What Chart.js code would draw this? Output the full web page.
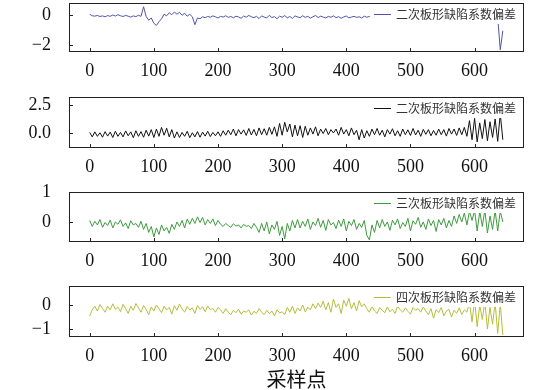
<!DOCTYPE html>
<html>
<head>
<meta charset="utf-8">
<script src="https://cdn.jsdelivr.net/npm/chart.js@4.4.0/dist/chart.umd.min.js"></script>
<style>
  html, body { margin: 0; padding: 0; background: #fff; }
  body { width: 560px; height: 390px; position: relative; overflow: hidden; }
  .panel { position: absolute; left: 0; width: 560px; }
  #xlabel { position: absolute; left: 69px; width: 455px; top: 364px; height: 24px; line-height: 24px;
            text-align: center; font: 20px "Noto Sans CJK SC", sans-serif; color: #111; }
</style>
</head>
<body>
<div class="panel" id="p0"><canvas id="c0"></canvas></div>
<div class="panel" id="p1"><canvas id="c1"></canvas></div>
<div class="panel" id="p2"><canvas id="c2"></canvas></div>
<div class="panel" id="p3"><canvas id="c3"></canvas></div>
<div id="xlabel">采样点</div>
<script>
// ---- data ----
const STEP = 4; // sample spacing between stored values
const X_TICKS = [0, 100, 200, 300, 400, 500, 600];
const X_LABEL = '采样点';

const LABEL_1 = '二次板形缺陷系数偏差';
const LABEL_2 = '二次板形缺陷系数偏差';
const LABEL_3 = '三次板形缺陷系数偏差';
const LABEL_4 = '四次板形缺陷系数偏差';

const SERIES_1 = [
 0.05,-0.05,-0.08,-0.03,-0.10,-0.06,-0.12,-0.04,-0.09,0.00,-0.07,0.02,-0.05,-0.10,-0.03,-0.08,-0.14,-0.06,-0.11,-0.02,-0.09,
 0.55,-0.10,-0.35,-0.20,-0.55,-0.70,-0.45,-0.25,0.05,-0.05,0.15,0.02,0.20,0.05,0.18,-0.02,0.12,-0.08,0.05,-0.12,-0.65,-0.20,-0.25,-0.12,
 -0.18,-0.10,-0.15,-0.06,-0.12,-0.20,-0.09,-0.14,-0.05,-0.16,
 -0.10,-0.19,-0.08,-0.13,-0.22,-0.07,-0.15,-0.03,-0.12,-0.18,
 -0.09,-0.24,-0.06,-0.14,-0.20,-0.02,-0.17,-0.11,-0.25,-0.08,
 -0.15,-0.04,-0.19,-0.10,-0.23,-0.06,-0.13,-0.18,-0.05,-0.16,
 -0.09,-0.21,-0.12,-0.03,-0.17,-0.08,-0.14,-0.20,-0.10,-0.15,
 -0.06,-0.18,-0.11,-0.22,-0.13,-0.07,-0.19,-0.14,-0.09,-0.16,
 -0.12,-0.20,-0.08,-0.15,-0.10,-0.18,
 -0.07,-0.14,-0.11,-0.17,-0.09,-0.13,-0.20,-0.06,-0.15,-0.10,
 -0.18,-0.12,-0.08,-0.16,-0.11,-0.21,-0.07,-0.14,-0.10,-0.17,
 -0.12,-0.06,-0.19,-0.13,-0.09,-0.15,-0.22,-0.10,-0.14,-0.08,
 -0.17,-0.11,-0.16,-0.05,-0.13,-0.19,-0.10,-0.15,
 -0.12,-0.08,-0.18,-0.14,-0.10,-0.20,-0.13,-0.07,-0.16,-0.11,
 -0.15,-2.32,-1.05
];

const SERIES_2 = [
 0.05,-0.35,0.10,-0.30,0.02,-0.38,0.12,-0.28,0.08,-0.40,
 0.15,-0.30,0.05,-0.35,0.18,-0.25,0.10,-0.42,0.20,-0.30,
 0.12,-0.38,0.25,-0.28,0.30,
 -0.40,0.35,-0.30,0.50,-0.20,0.42,-0.35,0.30,-0.45,
 0.10,-0.40,0.05,-0.30,0.15,-0.42,0.02,-0.35,0.12,-0.38,0.08,-0.28,0.15,-0.32,0.05,-0.25,0.10,
 -0.30,0.20,-0.20,0.25,-0.15,0.35,-0.25,0.30,-0.10,0.28,-0.22,0.40,-0.18,0.32,-0.25,0.45,-0.15,0.38,-0.20,0.50,-0.12,0.55,
 -0.30,0.85,-0.20,0.95,0.10,0.80,-0.35,0.70,-0.25,0.65,-0.40,
 0.60,-0.20,0.45,-0.10,0.55,-0.25,0.35,-0.05,0.40,-0.15,0.30,0.00,0.35,-0.20,0.50,-0.10,0.30,-0.25,0.45,-0.15,0.25,
 -0.60,0.30,-0.45,0.20,
 -0.30,0.35,-0.15,0.40,-0.20,0.25,-0.35,0.30,-0.10,0.38,
 -0.25,0.20,-0.30,0.35,-0.15,0.28,-0.22,0.40,-0.18,0.25,
 -0.30,0.32,-0.12,0.30,-0.25,0.22,-0.20,0.35,-0.15,0.30,
 -0.28,0.40,-0.10,0.35,-0.22,0.45,-0.15,0.50,-0.30,
 1.10,-0.60,1.30,-0.80,0.90,-0.50,1.20,-0.70,1.00,-0.40,1.25,-0.75,1.70,-0.60
];

const SERIES_3 = [
 0.05,-0.15,0.02,-0.10,0.08,-0.18,-0.02,-0.12,0.06,-0.20,0.00,-0.08,0.07,-0.15,-0.03,-0.22,0.04,-0.10,-0.05,-0.18,0.02,
 -0.25,-0.05,-0.35,-0.15,-0.50,-0.20,-0.42,-0.10,-0.30,-0.18,-0.38,-0.08,
 -0.25,0.00,-0.15,0.05,-0.20,0.10,-0.08,0.12,-0.05,0.17,-0.02,0.15,-0.10,0.08,-0.05,0.10,-0.12,0.05,
 -0.08,-0.15,-0.05,-0.12,-0.18,-0.06,-0.14,-0.10,-0.20,-0.08,-0.15,-0.12,-0.22,-0.05,-0.18,
 -0.35,-0.05,-0.30,0.00,-0.40,-0.10,-0.25,0.02,-0.45,-0.15,-0.57,-0.05,-0.30,0.05,-0.20,
 0.08,-0.20,0.02,-0.15,0.10,-0.25,0.00,-0.12,0.12,-0.18,0.05,-0.28,0.08,-0.10,-0.02,-0.22,0.06,-0.15,0.10,-0.30,0.02,-0.12,0.08,-0.25,-0.05,-0.18,0.05,
 -0.45,-0.60,-0.10,-0.35,
 0.05,-0.20,0.08,-0.15,0.00,-0.28,0.06,-0.10,0.10,-0.22,-0.02,-0.15,0.12,-0.30,0.04,-0.08,0.15,-0.18,0.00,-0.25,0.10,-0.12,0.05,-0.32,0.08,-0.10,0.12,-0.20,
 0.05,-0.15,0.20,-0.05,0.25,0.00,0.30,-0.10,0.35,0.05,
 0.38,-0.30,0.35,-0.15,0.40,-0.37,0.20,-0.25,0.38,-0.30,0.35,0.00
];

const SERIES_4 = [
 -0.46,-0.20,-0.05,-0.25,0.02,-0.15,-0.30,-0.05,-0.20,0.05,
 -0.18,-0.08,-0.28,0.03,-0.15,-0.35,-0.05,-0.22,0.06,-0.12,
 -0.30,-0.02,-0.18,-0.40,-0.08,-0.25,0.00,-0.15,-0.32,-0.05,
 -0.20,-0.10,-0.38,-0.03,-0.22,0.04,-0.16,-0.30,-0.06,-0.20,
 -0.12,-0.35,-0.02,-0.18,-0.08,-0.28,-0.04,-0.20,-0.14,-0.30,-0.10,
 -0.20,-0.35,-0.15,-0.30,-0.40,-0.22,-0.32,-0.18,-0.38,-0.25,
 -0.30,-0.20,-0.42,-0.26,-0.35,-0.15,-0.30,-0.40,-0.22,-0.36,
 -0.25,-0.45,-0.20,-0.33,-0.28,
 -0.40,-0.10,-0.30,-0.05,-0.35,-0.12,-0.25,0.00,-0.28,-0.08,-0.20,0.05,-0.15,0.08,-0.10,
 0.15,-0.20,0.10,-0.30,0.25,-0.10,0.05,-0.35,0.20,-0.05,0.28,-0.15,0.10,-0.25,0.18,-0.08,0.05,
 -0.15,-0.30,-0.05,-0.25,-0.35,-0.10,-0.22,-0.32,-0.08,-0.28,-0.18,-0.35,-0.05,-0.20,-0.30,-0.12,-0.26,-0.38,-0.10,-0.22,-0.15,-0.30,-0.08,
 -0.25,-0.40,-0.15,-0.55,-0.20,-0.32,-0.10,-0.45,-0.25,-0.18,-0.50,-0.22,-0.35,-0.12,-0.40,-0.20,-0.30,
 0.10,-0.70,0.20,-0.90,0.00,-0.60,0.15,-1.00,-0.10,-0.80,0.10,-1.18,0.05,-1.25
];

const Y_TICKS_1 = [-2, 0];      const Y_TICK_LABELS_1 = ['\u22122', '0'];
const Y_TICKS_2 = [0, 2.5];     const Y_TICK_LABELS_2 = ['0.0', '2.5'];
const Y_TICKS_3 = [0, 1];       const Y_TICK_LABELS_3 = ['0', '1'];
const Y_TICKS_4 = [-1, 0];      const Y_TICK_LABELS_4 = ['\u22121', '0'];

// ---- layout / style ----
const PANELS = [
  { values: SERIES_1, label: LABEL_1, color: '#5055aa', yMin: -2.47, yMax: 0.80, yTicks: Y_TICKS_1, yLabels: Y_TICK_LABELS_1, top: 3,   bottom: 52 },
  { values: SERIES_2, label: LABEL_2, color: '#111111', yMin: -1.34, yMax: 3.21, yTicks: Y_TICKS_2, yLabels: Y_TICK_LABELS_2, top: 97,  bottom: 148 },
  { values: SERIES_3, label: LABEL_3, color: '#3f9a3f', yMin: -0.67, yMax: 1.00, yTicks: Y_TICKS_3, yLabels: Y_TICK_LABELS_3, top: 192, bottom: 242 },
  { values: SERIES_4, label: LABEL_4, color: '#b5be3a', yMin: -1.33, yMax: 0.79, yTicks: Y_TICKS_4, yLabels: Y_TICK_LABELS_4, top: 286, bottom: 337 }
];
const PLOT_LEFT = 69, PLOT_RIGHT = 524, XAXIS_H = 28, TOP_PAD = 14, W = 560;
const X_MIN = -32.25, X_MAX = 677;
const TICK_FONT = { family: '"Liberation Serif", "Times New Roman", serif', size: 18 };

const framePlugin = {
  id: 'frameLegend',
  afterDatasetsDraw(chart, args, opts) {
    const { ctx, chartArea: a, scales } = chart;
    const xs = scales.x, ys = scales.y;
    ctx.save();
    // legend (opaque, no border)
    ctx.font = '12px "Noto Sans CJK SC", sans-serif';
    const tw = ctx.measureText(opts.label).width;
    const textRight = a.right - 8;
    const textLeft = textRight - tw;
    const lineEnd = textLeft - 5, lineStart = lineEnd - 17;
    const cy = a.top + 10.5;
    ctx.fillStyle = '#fff';
    ctx.fillRect(lineStart - 4, a.top + 1, a.right - 1 - (lineStart - 4), 20);
    ctx.strokeStyle = opts.color; ctx.lineWidth = 1;
    ctx.beginPath(); ctx.moveTo(lineStart, Math.round(cy) + 0.5); ctx.lineTo(lineEnd, Math.round(cy) + 0.5); ctx.stroke();
    ctx.fillStyle = '#333'; ctx.textBaseline = 'middle'; ctx.textAlign = 'left';
    ctx.fillText(opts.label, textLeft, cy + 0.5);
    // inward ticks
    ctx.strokeStyle = '#222'; ctx.lineWidth = 1;
    ctx.beginPath();
    X_TICKS.forEach(v => {
      const px = Math.round(xs.getPixelForValue(v)) + 0.5;
      ctx.moveTo(px, a.bottom); ctx.lineTo(px, a.bottom - 4);
    });
    opts.yTicks.forEach(v => {
      const py = Math.round(ys.getPixelForValue(v)) + 0.5;
      ctx.moveTo(a.left, py); ctx.lineTo(a.left + 4, py);
    });
    ctx.stroke();
    // frame
    ctx.strokeStyle = '#222';
    ctx.strokeRect(a.left + 0.5, a.top + 0.5, a.right - a.left - 1, a.bottom - a.top - 1);
    ctx.restore();
  }
};

PANELS.forEach((p, i) => {
  const h = TOP_PAD + (p.bottom - p.top) + XAXIS_H;
  const div = document.getElementById('p' + i);
  div.style.top = (p.top - TOP_PAD) + 'px';
  div.style.height = h + 'px';
  const cv = document.getElementById('c' + i);
  cv.width = W; cv.height = h;
  cv.style.width = W + 'px'; cv.style.height = h + 'px';
  const pts = p.values.map((v, k) => ({ x: k * STEP, y: v }));
  new Chart(cv, {
    type: 'line',
    data: { datasets: [{ data: pts, borderColor: p.color, borderWidth: 1, pointRadius: 0, tension: 0, fill: false }] },
    options: {
      responsive: false, animation: false, devicePixelRatio: 1,
      layout: { padding: { left: 0, right: W - PLOT_RIGHT, top: TOP_PAD, bottom: 0 } },
      plugins: { legend: { display: false }, tooltip: { enabled: false },
                 frameLegend: { label: p.label, color: p.color, yTicks: p.yTicks } },
      scales: {
        x: {
          type: 'linear', min: X_MIN, max: X_MAX,
          grid: { display: false }, border: { display: false },
          afterBuildTicks: s => { s.ticks = X_TICKS.map(v => ({ value: v })); },
          ticks: { font: TICK_FONT, color: '#111', padding: 0, maxRotation: 0, autoSkip: false,
                   callback: v => String(v) },
          afterFit: s => { s.height = XAXIS_H; s.paddingLeft = 0; s.paddingRight = 0; }
        },
        y: {
          type: 'linear', min: p.yMin, max: p.yMax,
          grid: { display: false }, border: { display: false },
          afterBuildTicks: s => { s.ticks = p.yTicks.map(v => ({ value: v })); },
          ticks: { font: TICK_FONT, color: '#111', padding: 10, autoSkip: false,
                   callback: v => p.yLabels[p.yTicks.indexOf(v)] },
          afterFit: s => { s.width = PLOT_LEFT; s.paddingTop = 0; s.paddingBottom = 0; }
        }
      }
    },
    plugins: [framePlugin]
  });
});
document.getElementById('xlabel').textContent = X_LABEL;
</script>
</body>
</html>
